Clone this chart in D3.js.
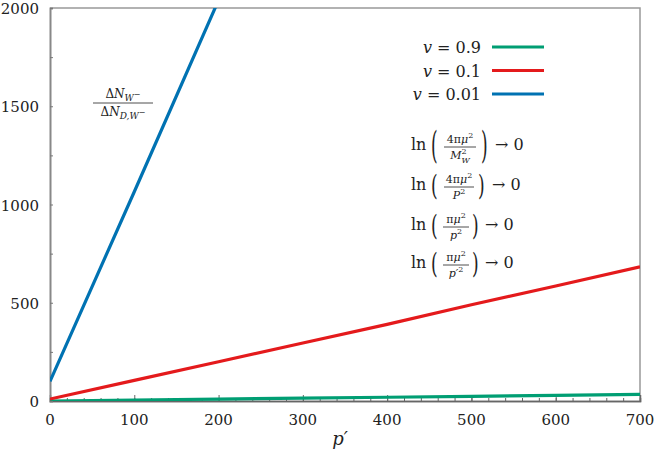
<!DOCTYPE html>
<html>
<head>
<meta charset="utf-8">
<script src="https://cdn.jsdelivr.net/npm/d3@7"></script>
<style>
  body { margin: 0; background: #fff; }
  svg { display: block; }
  text { font-family: "DejaVu Serif", "Liberation Serif", "Times New Roman", Times, serif; fill: #222; }
</style>
</head>
<body>
<svg id="chart" width="654" height="451"></svg>
<script>
var pPrime = [0, 100, 200, 300, 400, 500, 600, 700];
var blueP = [0, 100, 200];
// v = 0.9, v = 0.1, v = 0.01
var v09 = [0, 5, 10, 15, 19, 24, 29, 34];
var v01 = [10, 105, 200, 295, 390, 490, 585, 683];
var v001 = [100, 1065, 2040];
var seriesNames = ["v = 0.9", "v = 0.1", "v = 0.01"];
var seriesColors = ["#009e73", "#e41a1c", "#0072b2"];
var xTicks = [0, 100, 200, 300, 400, 500, 600, 700];
var yTicks = [0, 500, 1000, 1500, 2000];

var width = 654, height = 451;
var margin = {left: 50, right: 14, top: 8, bottom: 50};

var svg = d3.select('#chart');

var x = d3.scaleLinear().domain([0, 700]).range([margin.left, width - margin.right]);
var y = d3.scaleLinear().domain([0, 2000]).range([height - margin.bottom, margin.top]);

svg.append('clipPath').attr('id', 'clip')
  .append('rect')
    .attr('x', x(0)).attr('y', y(2000))
    .attr('width', x(700) - x(0)).attr('height', y(0) - y(2000));

// frame (top + right)
svg.append('path')
  .attr('d', `M${x(0)},${y(2000)}H${x(700)}V${y(0)}`)
  .attr('fill', 'none').attr('stroke', '#999').attr('stroke-width', 1.5);

// x axis, ticks pointing inward
var xAxis = svg.append('g').attr('transform', `translate(0,${y(0)})`);
xAxis.call(d3.axisTop(x).tickValues(d3.range(0, 701, 20)).tickSize(3).tickFormat(''));
xAxis.call(g => g.append('g').call(d3.axisTop(x).tickValues(xTicks).tickSize(6).tickFormat('')));
xAxis.selectAll('.domain').attr('stroke', '#666').attr('stroke-width', 1.5);
xAxis.selectAll('.tick line').attr('stroke', '#666');
xAxis.selectAll('.xlab').data(xTicks).enter().append('text')
  .attr('x', d => x(d)).attr('y', 24)
  .attr('text-anchor', 'middle').attr('font-size', 15)
  .text(d => d);

// y axis, ticks pointing inward
var yAxis = svg.append('g').attr('transform', `translate(${x(0)},0)`);
yAxis.call(d3.axisRight(y).tickValues(d3.range(0, 2001, 250)).tickSize(3).tickFormat(''));
yAxis.selectAll('.domain').attr('stroke', '#888').attr('stroke-width', 2);
yAxis.selectAll('.tick line').attr('stroke', '#777');
yAxis.selectAll('.ylab').data(yTicks).enter().append('text')
  .attr('x', -11).attr('y', d => y(d) + 6)
  .attr('text-anchor', 'end').attr('font-size', 15)
  .text(d => d);

// axis label p'
svg.append('text')
  .attr('x', (x(0) + x(700)) / 2 - 5).attr('y', 445)
  .attr('text-anchor', 'middle').attr('font-size', 18)
  .attr('font-style', 'italic')
  .text('p′');

// lines
var line = d3.line().x(d => x(d[0])).y(d => y(d[1]));
var plot = svg.append('g').attr('clip-path', 'url(#clip)');
var series = [
  d3.zip(pPrime, v09),
  d3.zip(pPrime, v01),
  d3.zip(blueP, v001)
];
plot.selectAll('path.line')
  .data(series)
  .enter().append('path')
    .attr('class', 'line')
    .attr('fill', 'none')
    .attr('stroke', (d, i) => seriesColors[i])
    .attr('stroke-width', 3.2)
    .attr('d', d => line(d));

// legend
var legend = svg.append('g');
seriesNames.forEach(function(name, i) {
  var ly = 47 + i * 23.5;
  var t = legend.append('text')
    .attr('x', 481).attr('y', ly + 6)
    .attr('text-anchor', 'end').attr('font-size', 16);
  t.append('tspan').attr('font-style', 'italic').text('v');
  t.append('tspan').text(name.slice(1));
  legend.append('line')
    .attr('x1', 492).attr('x2', 544)
    .attr('y1', ly).attr('y2', ly)
    .attr('stroke', seriesColors[i]).attr('stroke-width', 3.2);
});

// little math helper: parts = [{s, it, sh, fs, dx}] with sh = vertical shift
function mathText(g, xx, yy, parts, size, anchor) {
  var t = g.append('text').attr('x', xx).attr('y', yy)
    .attr('font-size', size).attr('text-anchor', anchor || 'start');
  var cur = 0;
  parts.forEach(function(p) {
    var sh = p.sh || 0;
    t.append('tspan')
      .attr('dx', p.dx || 0)
      .attr('dy', sh - cur)
      .attr('font-size', p.fs || size)
      .attr('font-style', p.it ? 'italic' : 'normal')
      .text(p.s);
    cur = sh;
  });
  return t;
}

function fraction(g, cx, ly, w, num, den, size, nb, db) {
  mathText(g, cx, ly - nb, num, size, 'middle');
  g.append('line').attr('x1', cx - w / 2).attr('x2', cx + w / 2)
    .attr('y1', ly).attr('y2', ly).attr('stroke', '#222').attr('stroke-width', 0.8);
  mathText(g, cx, ly + db, den, size, 'middle');
}

// tall thin paren: small glyph stretched vertically
function paren(g, px, ly, ch, sc) {
  g.append('text')
    .attr('transform', `translate(${px},${ly}) scale(1,${sc})`)
    .attr('y', 17 * 0.3).attr('font-size', 17).text(ch);
}

var ann = svg.append('g');

// Delta N ratio
fraction(ann, 123, 103, 60,
  [{s: 'Δ'}, {s: 'N', it: true}, {s: 'W', it: true, sh: 3, fs: 9}, {s: '−', sh: -1, fs: 8}],
  [{s: 'Δ'}, {s: 'N', it: true}, {s: 'D,W', it: true, sh: 3, fs: 9}, {s: '−', sh: -1, fs: 8}],
  12, 5, 13);

// ln(...) -> 0 lines
var logs = [
  {base: 150, cx: 460, w: 32, sc: 2.2, rp: 481, arrow: 495,
   num: [{s: '4π'}, {s: 'μ', it: true}, {s: '2', sh: -5, fs: 8}],
   den: [{s: 'M', it: true}, {s: '2', sh: -5, fs: 8}, {s: 'W', it: true, sh: 4, fs: 8, dx: -5}]},
  {base: 190, cx: 459, w: 30, sc: 1.65, rp: 478, arrow: 492,
   num: [{s: '4π'}, {s: 'μ', it: true}, {s: '2', sh: -5, fs: 8}],
   den: [{s: 'P', it: true}, {s: '2', sh: -5, fs: 8}]},
  {base: 230, cx: 456, w: 26, sc: 1.65, rp: 472, arrow: 485,
   num: [{s: 'π'}, {s: 'μ', it: true}, {s: '2', sh: -5, fs: 8}],
   den: [{s: 'p', it: true}, {s: '2', sh: -5, fs: 8}]},
  {base: 268, cx: 456, w: 26, sc: 1.65, rp: 472, arrow: 485,
   num: [{s: 'π'}, {s: 'μ', it: true}, {s: '2', sh: -5, fs: 8}],
   den: [{s: 'p′', it: true}, {s: '2', sh: -5, fs: 8}]}
];
logs.forEach(function(f) {
  var ly = f.base - 3;
  ann.append('text').attr('x', 411).attr('y', f.base).attr('font-size', 16).text('ln');
  paren(ann, 431, ly, '(', f.sc);
  fraction(ann, f.cx, ly, f.w, f.num, f.den, 11, 4, 12);
  paren(ann, f.rp, ly, ')', f.sc);
  ann.append('text').attr('x', f.arrow).attr('y', f.base).attr('font-size', 16).text('→ 0');
});
</script>
</body>
</html>
